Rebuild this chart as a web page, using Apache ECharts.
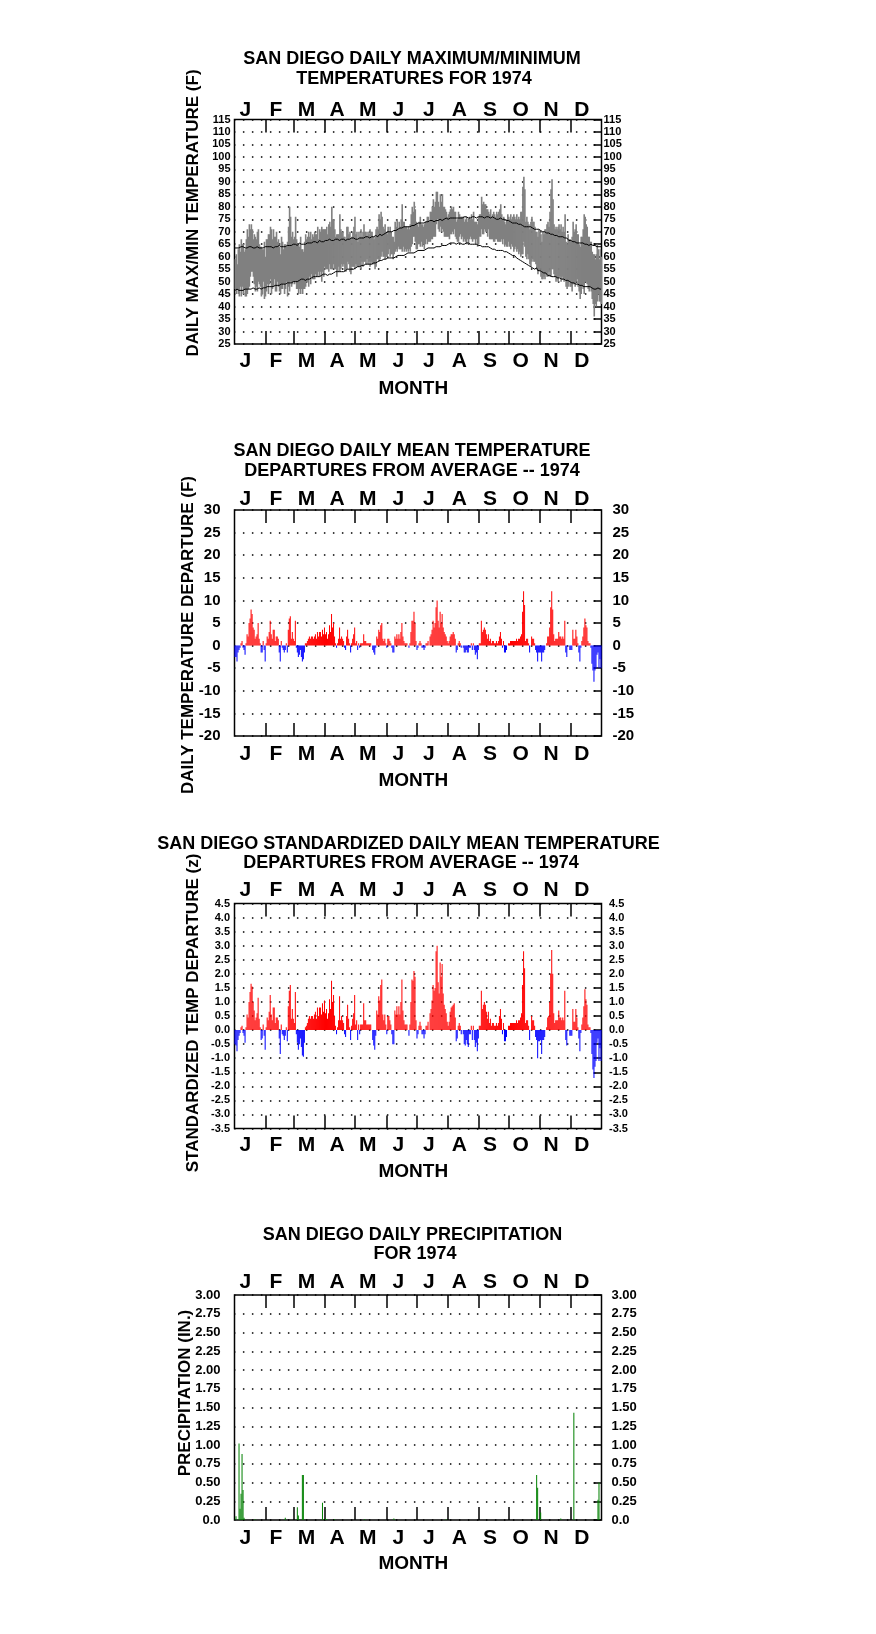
<!DOCTYPE html>
<html><head><meta charset="utf-8">
<script src="https://cdn.jsdelivr.net/npm/echarts@6/dist/echarts.min.js"></script>
<style>html,body{margin:0;padding:0;background:#fff}#c{width:876px;height:1634px}</style>
</head><body><div id="c"></div>
<script>
// ---------------- DATA ----------------
const monthLetters = ['J','F','M','A','M','J','J','A','S','O','N','D'];
const monthDays = [31,28,31,30,31,30,31,31,30,31,30,31];

// Panel 1: daily maximum / minimum temperature (F), 1974
const tmax = [
59,61,57,63,65,62,67,65,65,62,63,67,71,68,73,71,73,71,67,69,68,67,70,71,65,64,64,63,63,66,60,
67,67,69,69,72,71,67,71,68,68,70,66,67,64,61,68,66,63,65,65,64,66,72,80,76,68,70,67,
68,76,67,65,65,64,68,63,63,62,66,69,67,68,70,68,70,67,69,68,70,69,69,72,67,71,70,72,71,71,71,
71,72,69,73,74,72,80,75,75,71,68,69,69,69,77,71,70,70,68,68,67,72,72,69,70,67,68,70,72,76,
69,70,66,70,68,71,68,70,73,70,70,68,70,69,71,70,70,68,67,68,71,72,71,77,75,78,76,72,71,73,70,
69,72,70,72,70,68,68,66,74,72,75,71,74,72,75,81,74,74,72,72,71,72,71,73,77,80,78,82,79,74,
73,72,74,76,73,73,72,73,74,74,76,76,74,78,78,80,83,80,82,86,86,82,80,85,82,85,80,80,79,78,76,
77,78,79,80,79,80,78,78,74,75,78,77,76,76,76,76,74,75,76,74,75,76,75,77,75,78,74,74,74,73,76,
77,77,84,81,82,81,81,79,79,78,77,79,76,77,78,77,76,78,77,78,79,81,77,75,76,74,73,75,77,76,
75,77,75,76,77,76,75,77,75,76,75,78,78,88,92,87,74,76,74,73,71,74,76,74,74,72,70,70,68,71,70,
69,66,70,69,71,71,73,74,72,78,87,91,83,73,71,72,71,72,73,71,73,70,72,70,77,66,65,69,67,67,
66,68,74,70,71,73,69,69,65,64,68,68,71,77,76,73,72,68,68,66,66,62,61,61,59,61,65,63,59,63,60
];
const tmin = [
47,45,47,45,44,48,44,48,45,47,44,44,45,47,48,52,54,54,52,49,46,48,46,50,49,48,44,45,50,43,44,
46,49,45,49,51,45,47,48,51,46,46,50,48,46,45,47,47,49,45,47,50,44,48,46,50,48,49,50,
49,50,47,47,45,47,45,47,45,47,47,48,50,50,48,52,49,53,51,51,51,53,52,52,54,52,54,50,54,52,56,
55,55,55,54,57,55,55,55,57,55,55,52,54,56,54,55,57,56,57,54,54,55,58,57,54,53,56,56,56,55,
57,56,56,56,56,55,58,56,58,58,57,59,57,58,56,58,57,57,57,55,56,59,59,58,59,60,62,60,60,59,60,
60,61,63,60,61,61,59,61,62,63,62,64,63,63,63,62,64,62,63,62,63,62,63,62,64,65,68,68,66,63,
63,65,65,64,66,64,65,63,65,67,65,66,66,66,67,67,68,68,68,73,75,71,70,72,70,71,70,68,68,68,68,
68,67,69,69,70,69,71,68,67,66,66,68,69,67,68,66,67,66,65,67,65,67,68,67,66,67,67,65,67,64,65,
68,68,71,69,69,71,70,70,68,71,67,67,67,67,66,66,67,67,66,66,66,66,67,65,67,64,65,64,64,66,
64,63,65,64,62,63,64,62,63,61,62,60,61,61,66,64,60,59,61,59,57,56,58,59,58,58,57,55,53,54,55,
52,51,51,52,51,53,52,52,54,52,52,55,55,53,52,50,51,50,52,52,50,52,51,50,51,48,47,48,50,48,
48,46,49,49,48,50,51,48,46,43,45,48,47,45,50,50,49,47,46,48,46,43,41,36,41,40,42,45,42,42,41
];
// Panel 1: daily normal maximum / minimum (black lines)
const normMax = [
63.5,64,63.5,64,63.5,63.5,64,63.5,64,63.5,63.5,64,63.5,63.5,64,63.5,64,63.5,63.5,64,63.5,63.5,64,63.5,63.5,64,63.5,64,63.5,63.5,64,
63.5,64,63.5,64,63.5,64,64,63.5,64,64,63.5,64,64,64.5,64,64,64.5,64,64.5,64,64.5,64.5,64,64.5,65,64.5,64.5,65,
64.5,65,65,64.5,65,65.5,65,65,65.5,65,65.5,65,65.5,65.5,65,65.5,66,65.5,65.5,66,65.5,66,66,65.5,66,66.5,66,66,66.5,66,66.5,
66.5,66,66.5,66.5,67,66.5,66.5,67,66.5,67,67,66.5,67,67,66.5,67,67,67.5,67,67,66.5,67,67,67.5,67,67,67.5,67,67.5,67.5,
67,67.5,67,67.5,67.5,67,67.5,68,67.5,67.5,68,67.5,68,68,67.5,68,68,68.5,68,68,68.5,68.5,68,68.5,69,68.5,68.5,69,69,69.5,69.5,
69.5,70,70,70,70.5,70,70.5,70.5,71,70.5,71,71,71,71.5,71,71.5,71.5,72,71.5,72,72,72,72.5,72,72.5,72.5,73,72.5,73,73,
73,73.5,73,73.5,73.5,73.5,74,73.5,74,74,73.5,74,74,74.5,74,74.5,74.5,74,74.5,74.5,75,74.5,74.5,75,75,74.5,75,75,75,75.5,75,
75,75.5,75.5,75,75.5,75.5,75.5,76,75.5,75.5,75.5,76,75.5,76,75.5,75.5,76,75.5,76,75.5,75.5,76,75.5,75.5,76,75.5,76,76,75.5,76,76,
76,76,76.5,76,76,75.5,76,76,75.5,76,76,75.5,75.5,76,75.5,75.5,75.5,75,75.5,75,75,75.5,75,75,74.5,75,74.5,74.5,74,74.5,
74,74,74,73.5,73.5,73.5,73,73.5,73,73,72.5,73,72.5,72.5,72.5,72,72.5,72,72,72,71.5,72,71.5,71.5,71.5,71,71.5,71,71,71,70.5,
70.5,70.5,70,70.5,70,70,69.5,70,69.5,69.5,69,69.5,69,69,68.5,69,68.5,68.5,68,68.5,68,67.5,68,67.5,67.5,67,67.5,67,66.5,67,
66.5,66.5,66,66.5,66,66,65.5,66,65.5,65.5,65.5,65,65.5,65,65,64.5,65,65,64.5,64.5,65,64.5,64.5,64,64.5,64,64,64.5,64,64,64
];
const normMin = [
46.5,46.5,47,46.5,46.5,47,46.5,47,46.5,47,47,46.5,47,47,47,46.5,47,47,47.5,47,47,47.5,47,47,47.5,47.5,47,47.5,47.5,48,47.5,
47.5,48,47.5,48,48,48,48.5,48,48,48.5,48.5,48.5,49,48.5,48.5,49,49,49,49.5,49,49,49.5,49.5,49.5,50,49.5,50,50,
50,50,50.5,50,50.5,50.5,50.5,51,50.5,51,51,50.5,51,51,51.5,51,51.5,51.5,51.5,52,51.5,52,52,52,52.5,52,52.5,52.5,52.5,53,52.5,
53,53,52.5,53,53,53.5,53,53.5,53.5,53.5,54,53.5,54,53.5,54,54,54,54.5,54,54.5,54.5,54.5,55,54.5,55,55,55,55.5,55,55.5,
55.5,55.5,56,55.5,56,56,56.5,56,56.5,56.5,57,56.5,57,57,57,57.5,57,57.5,57.5,58,57.5,58,58,58,58.5,58,58.5,58.5,59,58.5,59,
59,59.5,59,59.5,59.5,59.5,60,59.5,60,60,60,60.5,60,60.5,60.5,60.5,61,60.5,61,61,61,61.5,61,61.5,61.5,61.5,62,61.5,62,62,
62,62.5,62,62.5,62.5,62.5,63,62.5,63,63,63,63.5,63,63.5,63.5,63.5,64,63.5,64,64,64,64,64.5,64,64.5,64.5,64.5,64.5,65,64.5,65,
65,65,65.5,65,65.5,65,65.5,65.5,65,65.5,65.5,65,65.5,65.5,65,65.5,65,65.5,65.5,65,65.5,65,65,65.5,65,65,65,64.5,65,65,64.5,
64.5,64.5,64.5,64,64.5,64,64,64,63.5,64,63.5,63.5,63.5,63,63.5,63,63,62.5,63,62.5,62.5,62.5,62,62.5,62,62,61.5,62,61.5,61.5,
61.5,61,61.5,60.5,60.5,60.5,60,59.5,60,59,59,58.5,59,58,58,57.5,58,57,57,56.5,57,56,56,55.5,56,55,55,55.5,54.5,54.5,54.5,
54,54,53.5,53.5,53,53.5,53,52.5,53,52.5,52.5,52,52.5,52,51.5,52,51.5,51.5,51,51.5,51,51,50.5,51,50.5,50.5,50,50.5,50,50,
50,49.5,50,49.5,49.5,49,49.5,49,49,48.5,49,48.5,48.5,48,48.5,48,48,48,47.5,48,47.5,47.5,47.5,47,47.5,47,47,47.5,47,47,47
];
// Panel 2: daily mean temperature departure (F)
const departure = [
-2.5,-2.5,-3.5,-1.5,-1,-0.5,0.5,1,-0.5,-1,-2,0.5,2.5,2,5,6,8,7,4,3.5,1.5,2,2.5,5,1.5,0.5,-1.5,-1.5,1,-1,-3.5,
0.5,2,1.5,3,5.5,2.5,1.5,3.5,3.5,1,2,2,1.5,-1.5,-3.5,1,-0.5,-1,-1.5,-1,0.5,-1.5,3.5,6,6.5,1.5,3,1.5,
1,5.5,-0.5,-1.5,-2.5,-2,-1,-2.5,-3.5,-3,-1.5,0.5,0.5,1,1.5,2,1.5,2,2,1.5,2,2.5,1.5,3,2,3,3,2,3.5,2.5,4,
2.5,3,1.5,2.5,4.5,3,7,4,5,2,0.5,-0.5,0.5,1.5,4,1.5,2,1.5,1,-0.5,-1,2,3.5,1.5,0.5,-1.5,0.5,1.5,2.5,4,
0.5,1,-1,0.5,-0.5,0.5,0.5,0.5,2.5,1,1,0.5,0.5,0.5,0.5,0.5,0,-1,-1.5,-2,-0.5,2,1.5,3.5,3,4.5,5,1.5,1,1.5,0.5,
-0.5,1.5,1.5,1,0.5,-0.5,-1.5,-1.5,2,1.5,2.5,1.5,2.5,1.5,3,5,2,1,0.5,0.5,0.5,0,-0.5,0.5,3,5.5,5.5,7.5,5,1,
-1,-0.5,0.5,1,0.5,-0.5,-0.5,-1,-0.5,0.5,0.5,1,0,2,2.5,3.5,5.5,4,5,8.5,10,5.5,4,7.5,5,7,4,3,2.5,2,1,
0.5,1,2,2.5,2.5,3,2.5,1.5,-1.5,-1,0.5,1,0.5,-0.5,0,-0.5,-1.5,-1.5,-1,-1.5,-1.5,-0.5,-0.5,0.5,-1,0.5,-1,-2,-1.5,-3,-1,
0.5,0.5,5.5,3,3.5,4,3.5,2.5,1.5,2.5,1,1.5,0.5,1,1,0.5,0.5,1,0.5,1,2,3,1.5,-0.5,1,-1.5,-1.5,-1,0,0.5,
0.5,1,1,1,1,1,1,1.5,1,1.5,1.5,2,2.5,7.5,12,9,1,1.5,1.5,0.5,-1.5,0,2,1.5,1.5,0.5,-1,-1.5,-3.5,-1.5,-1.5,
-1.5,-3.5,-1.5,-1.5,-1,0,0.5,2,2,4,8.5,12,8,2.5,1,1.5,1.5,1.5,3,2,2,1.5,2,1.5,5.5,-1.5,-2.5,0,0,-1,
-1,-1,3.5,1.5,1.5,3.5,2,0.5,-1.5,-3.5,-0.5,1,2,4,6,4.5,4,1,0.5,0.5,-0.5,-4,-5.5,-8,-5.5,-5,-2,-1.5,-5,-3,-5
];
// Panel 3: standardized daily mean temperature departure (z)
const stdDeparture = [
-0.5,-0.55,-0.75,-0.35,-0.2,-0.1,0.1,0.15,-0.1,-0.2,-0.45,0.1,0.55,0.45,1.0,1.35,1.65,1.55,1.0,0.7,0.35,0.45,0.6,1.15,0.4,0.1,-0.35,-0.3,0.2,-0.2,-0.7,
0.1,0.45,0.35,0.65,1.25,0.55,0.35,0.8,0.8,0.25,0.45,0.45,0.35,-0.3,-0.85,0.2,-0.15,-0.2,-0.35,-0.2,0.1,-0.4,0.85,1.4,1.6,0.4,0.75,0.4,
0.25,1.35,-0.15,-0.45,-0.7,-0.5,-0.3,-0.6,-0.9,-0.95,-0.45,0.1,0.15,0.25,0.4,0.5,0.4,0.5,0.5,0.4,0.55,0.65,0.4,0.8,0.5,0.8,0.8,0.55,0.95,0.65,1.05,
0.6,0.75,0.4,0.6,1.1,0.75,1.75,1.0,1.25,0.5,0.15,-0.15,0.1,0.35,1.2,0.35,0.5,0.35,0.25,-0.15,-0.25,0.5,0.9,0.4,0.1,-0.35,0.15,0.4,0.6,1.25,
0.2,0.35,-0.35,0.2,-0.15,0.2,0.2,0.2,0.95,0.35,0.35,0.2,0.2,0.2,0.2,0.2,0,-0.35,-0.55,-0.7,-0.2,0.7,0.55,1.2,1.05,1.6,1.8,0.55,0.35,0.55,0.2,
-0.15,0.5,0.5,0.35,0.2,-0.15,-0.5,-0.5,0.7,0.55,0.85,0.55,0.85,0.55,1.0,1.8,0.7,0.35,0.2,0.2,0.2,0,-0.2,0.2,1.0,1.8,1.75,2.1,1.9,0.35,
-0.3,-0.15,0.15,0.3,0.15,-0.15,-0.15,-0.3,-0.15,0.15,0.15,0.3,0,0.6,0.75,1.05,1.6,1.4,1.5,2.8,3.0,1.7,1.3,2.4,1.9,2.35,1.3,0.9,0.75,0.6,0.3,
0.15,0.3,0.65,0.8,0.85,0.9,0.95,0.45,-0.4,-0.3,0.15,0.25,0.15,-0.15,0,-0.15,-0.5,-0.55,-0.35,-0.5,-0.6,-0.15,-0.15,0.15,-0.35,0.15,-0.35,-0.6,-0.45,-0.75,-0.3,
0.15,0.15,1.4,0.75,0.9,1.0,0.9,0.65,0.4,0.65,0.25,0.4,0.15,0.25,0.25,0.15,0.15,0.25,0.15,0.25,0.5,0.75,0.4,-0.15,0.25,-0.4,-0.4,-0.25,0,0.15,
0.15,0.25,0.25,0.25,0.25,0.25,0.25,0.35,0.25,0.35,0.35,0.45,0.6,1.6,2.8,2.2,0.25,0.35,0.35,0.15,-0.35,0,0.5,0.35,0.35,0.15,-0.25,-0.35,-1.0,-0.4,-0.4,
-0.35,-0.85,-0.35,-0.35,-0.25,0,0.1,0.45,0.5,1.0,2.0,2.85,2.0,0.6,0.25,0.35,0.35,0.35,0.7,0.45,0.45,0.35,0.45,0.35,1.4,-0.35,-0.55,0,0,-0.2,
-0.2,-0.2,0.75,0.3,0.3,0.75,0.45,0.1,-0.3,-0.75,-0.1,0.2,0.45,0.85,1.45,1.1,0.9,0.2,0.1,0.1,-0.1,-0.85,-1.4,-1.7,-1.3,-1.1,-0.45,-0.3,-1.1,-0.65,-1.1
];
// Panel 4: daily precipitation (inches); days not listed are 0
const precipDates = ['01-02','01-05','01-06','01-07','01-08','01-09','01-10','01-21','02-20','03-04','03-05','03-09','03-10','03-29','04-01','04-02','04-10','05-10','06-08','07-30','10-28','10-29','11-01','11-21','12-04','12-28','12-29'];
const precipValues = [0.05,1.02,0.15,0.35,0.88,0.40,0.03,0.01,0.03,0.17,0.06,0.60,0.60,0.23,0.02,0.01,0.01,0.01,0.02,0.01,0.60,0.43,0.10,0.02,1.43,0.27,0.50];

// ---------------- CHART ----------------
const FONT = 'Arial, "Liberation Sans", Helvetica, sans-serif';
const monthStarts = [];
let acc = 0; monthDays.forEach(d => { monthStarts.push(acc); acc += d; });
const yearDays = acc;
const tickVals = monthStarts.slice(1);
const mw = yearDays / 12;
const labelVals = monthLetters.map((_, i) => (i + 0.5) * mw - 4.4);
const monthFmt = v => monthLetters[Math.max(0, Math.min(11, Math.round((v + 4.4) / mw - 0.5)))];

const precip = precipDates.map((s, i) => {
  const m = parseInt(s.slice(0, 2), 10), d = parseInt(s.slice(3), 10);
  return [monthStarts[m - 1] + d - 1, precipValues[i]];
});

const panels = [
  {top:119.5, height:224.5, min:25, max:115, interval:5, fs:11, lm:4, rm:2, tm:-1.5, bm:6.5, fmt: v => String(v)},
  {top:510, height:226, min:-20, max:30, interval:5, fs:15, lm:14, rm:11, tm:0, bm:7.5, fmt: v => String(v)},
  {top:903.5, height:225, min:-3.5, max:4.5, interval:0.5, fs:11, lm:4.5, rm:7.5, tm:2.5, bm:6, fmt: v => v.toFixed(1)},
  {top:1295, height:225, min:0, max:3, interval:0.25, fs:13, lm:14, rm:10, tm:2.7, bm:7.5, fmt: v => v === 0 ? '0.0' : v.toFixed(2)}
];
const LEFT = 234.5, WIDTH = 367;

const grid = [], xAxis = [], yAxis = [];
panels.forEach((p, i) => {
  grid.push({left: LEFT, top: p.top, width: WIDTH, height: p.height, show: true, borderColor: '#000', borderWidth: 1.5, backgroundColor: 'transparent'});
  ['bottom', 'top'].forEach(pos => {
    xAxis.push({
      gridIndex: i, type: 'value', min: 0, max: yearDays, position: pos,
      axisLine: {show: false, onZero: false},
      axisTick: {show: true, inside: true, length: 13, customValues: tickVals, lineStyle: {color: '#000', width: 1.5}},
      axisLabel: {show: true, customValues: labelVals, formatter: monthFmt, fontSize: 21, fontWeight: 'bold', color: '#000', fontFamily: FONT, margin: pos === 'top' ? p.tm : p.bm},
      splitLine: {show: false}
    });
  });
  yAxis.push({
    gridIndex: i, type: 'value', min: p.min, max: p.max, interval: p.interval, position: 'left',
    axisLine: {show: false, onZero: false}, axisTick: {show: false},
    axisLabel: {fontSize: p.fs, fontWeight: 'bold', color: '#000', fontFamily: FONT, margin: p.lm, formatter: p.fmt},
    splitLine: {show: true, lineStyle: {color: '#000', width: 1.5, type: [1.5, 7.5], dashOffset: 0.6}}
  });
  yAxis.push({
    gridIndex: i, type: 'value', min: p.min, max: p.max, interval: p.interval, position: 'right',
    axisLine: {show: false, onZero: false},
    axisTick: {show: true, inside: true, length: 8, lineStyle: {color: '#000', width: 1.5}},
    axisLabel: {fontSize: p.fs, fontWeight: 'bold', color: '#000', fontFamily: FONT, margin: p.rm, formatter: p.fmt},
    splitLine: {show: false}
  });
});

function barRender(colorFn) {
  return function (params, api) {
    const d = api.value(0), v = api.value(1);
    const a = api.coord([d, 0]);
    const b = api.coord([d + 1, v]);
    return {type: 'rect', shape: {x: a[0], y: Math.min(a[1], b[1]), width: b[0] - a[0], height: Math.abs(b[1] - a[1])}, style: {fill: colorFn(v)}};
  };
}
const signColor = v => v >= 0 ? '#ff0000' : '#0000ff';

const series = [
  {
    type: 'custom', xAxisIndex: 0, yAxisIndex: 0, clip: true,
    data: tmax.map((v, i) => [i, tmin[i], v]),
    encode: {x: 0, y: [1, 2]},
    renderItem: function (params, api) {
      const d = api.value(0);
      const a = api.coord([d, api.value(2)]);
      const b = api.coord([d + 1, api.value(1)]);
      return {type: 'rect', shape: {x: a[0], y: a[1], width: b[0] - a[0] + 0.6, height: b[1] - a[1]}, style: {fill: '#808080'}};
    }
  },
  {type: 'line', xAxisIndex: 0, yAxisIndex: 0, showSymbol: false, data: normMax.map((v, i) => [i + 0.5, v]), lineStyle: {color: '#000', width: 1}, z: 5},
  {type: 'line', xAxisIndex: 0, yAxisIndex: 0, showSymbol: false, data: normMin.map((v, i) => [i + 0.5, v]), lineStyle: {color: '#000', width: 1}, z: 5},
  {type: 'custom', xAxisIndex: 2, yAxisIndex: 2, clip: true, data: departure.map((v, i) => [i, v]), encode: {x: 0, y: 1}, renderItem: barRender(signColor)},
  {type: 'custom', xAxisIndex: 4, yAxisIndex: 4, clip: true, data: stdDeparture.map((v, i) => [i, v]), encode: {x: 0, y: 1}, renderItem: barRender(signColor)},
  {type: 'custom', xAxisIndex: 6, yAxisIndex: 6, clip: true, data: precip, encode: {x: 0, y: 1}, renderItem: barRender(() => '#008000')}
];

function txt(t, x, y, size, rot) {
  return {type: 'text', x: x, y: y, rotation: rot || 0, style: {text: t, fill: '#000', font: 'bold ' + size + 'px ' + FONT, textAlign: 'center', textVerticalAlign: 'middle'}};
}
const R = Math.PI / 2;
const graphic = [
  txt('SAN DIEGO DAILY MAXIMUM/MINIMUM', 412, 59, 18), txt('TEMPERATURES FOR 1974', 414, 78.7, 18),
  txt('SAN DIEGO DAILY MEAN TEMPERATURE', 412, 451.3, 18), txt('DEPARTURES FROM AVERAGE -- 1974', 412, 471, 18),
  txt('SAN DIEGO STANDARDIZED DAILY MEAN TEMPERATURE', 408.5, 843.7, 18), txt('DEPARTURES FROM AVERAGE -- 1974', 411, 862.7, 18),
  txt('SAN DIEGO DAILY PRECIPITATION', 412.5, 1234.7, 18), txt('FOR 1974', 415, 1254.3, 18),
  txt('MONTH', 413.3, 388.7, 19), txt('MONTH', 413.3, 780.3, 19), txt('MONTH', 413.3, 1172, 19), txt('MONTH', 413.3, 1563.7, 19),
  txt('DAILY MAX/MIN TEMPERATURE (F)', 193.7, 213, 17, R),
  txt('DAILY TEMPERATURE DEPARTURE (F)', 188.7, 635, 17, R),
  txt('STANDARDIZED TEMP DEPARTURE (z)', 193.7, 1013, 17, R),
  txt('PRECIPITATION (IN.)', 185.3, 1393, 17, R)
];

const chart = echarts.init(document.getElementById('c'), null, {renderer: 'canvas'});
chart.setOption({animation: false, backgroundColor: '#fff', grid, xAxis, yAxis, series, graphic});
</script>
</body></html>
